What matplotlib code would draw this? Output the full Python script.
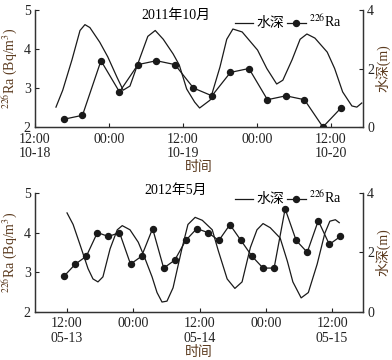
import pandas as pd
import matplotlib
matplotlib.use("Agg")
import matplotlib.pyplot as plt
import matplotlib.dates as mdates
from matplotlib.ticker import FuncFormatter
from matplotlib.lines import Line2D

plt.rcParams['font.family'] = ['Liberation Serif', 'DejaVu Serif', 'Noto Sans CJK SC']
plt.rcParams['mathtext.fontset'] = 'stix'

# 2011年10月, hours after 10-18 12:00
oct_ra_h = [4.7, 7.7, 10.7, 13.7, 16.7, 19.7, 22.7, 25.7, 28.7, 31.7, 34.7, 37.7, 40.7, 43.7, 46.7, 49.7]
oct_ra = [2.2, 2.3, 3.7, 2.9, 3.6, 3.7, 3.6, 3.0, 2.8, 3.4, 3.5, 2.7, 2.8, 2.7, 2.0, 2.5]
oct_dep_h = [3.4, 4.5, 6.0, 7.3, 8.1, 8.9, 10.5, 11.8, 13.3, 14.3, 15.4, 17.0, 18.3, 19.5, 20.8,
             22.4, 23.4, 24.6, 25.9, 26.7, 28.4, 30.0, 31.1, 32.1, 33.6, 36.1, 37.6, 39.2, 40.2,
             41.7, 43.0, 44.1, 45.4, 47.4, 48.6, 49.9, 51.4, 52.2, 53.0]
oct_dep = [0.68, 1.26, 2.3, 3.3, 3.5, 3.4, 2.9, 2.4, 1.7, 1.26, 1.4, 2.35, 3.1, 3.3, 3.0,
           2.5, 2.12, 1.3, 0.85, 0.65, 0.92, 2.05, 3.0, 3.35, 3.25, 2.63, 2.0, 1.47, 1.6,
           2.3, 3.0, 3.18, 3.04, 2.56, 2.0, 1.2, 0.72, 0.68, 0.82]

# 2012年5月, hours after 05-13 12:00
may_ra_h = [-0.5, 1.5, 3.5, 5.5, 7.5, 9.5, 11.5, 13.5, 15.5, 17.5, 19.5, 21.5, 23.5,
            25.5, 27.5, 29.5, 31.5, 33.5, 35.5, 37.5, 39.5, 41.5, 43.5, 45.5, 47.5, 49.5]
may_ra = [2.9, 3.2, 3.4, 4.0, 3.9, 4.0, 3.2, 3.4, 4.1, 3.1, 3.3, 3.8, 4.1,
          4.0, 3.8, 4.2, 3.8, 3.4, 3.1, 3.1, 4.6, 3.8, 3.5, 4.3, 3.7, 3.9]
may_dep_h = [0.0, 1.1, 2.4, 3.8, 4.7, 5.6, 6.5, 7.8, 9.1, 10.0, 11.4, 12.9, 14.1, 15.4, 16.3,
             17.2, 18.1, 19.2, 20.8, 21.9, 23.2, 24.5, 26.3, 27.4, 29.0, 30.4, 31.7,
             33.2, 34.4, 35.5, 36.8, 38.6, 39.9, 40.9, 42.4, 43.7, 45.3, 46.7, 47.6, 48.6, 49.3]
may_dep = [3.33, 2.94, 2.23, 1.45, 1.1, 1.0, 1.17, 2.12, 2.76, 2.9, 2.76, 2.34, 1.8, 1.17, 0.64,
           0.32, 0.35, 0.8, 2.12, 2.94, 3.18, 3.08, 2.76, 2.05, 1.1, 0.78, 1.0,
           2.16, 2.76, 2.97, 2.83, 2.48, 1.7, 1.0, 0.46, 0.64, 1.6, 2.65, 3.05, 3.1, 3.0]

LBL = '#5b3a1e'
LINE = '#1a1a1a'


def tlab(x, pos):
    d = mdates.num2date(x)
    s = d.strftime('%H:%M')
    if d.hour == 12:
        s += '\n' + d.strftime('%m-%d')
    return s


def panel(rect, t0, ra_h, ra, dep_h, dep, xlim_h, title, title_y, leg_y):
    t0 = pd.Timestamp(t0)
    tt = lambda h: t0 + pd.to_timedelta(h, unit='h')
    ax = fig.add_axes(rect)
    ax2 = ax.twinx()
    ax2.plot(tt(dep_h), dep, color=LINE, lw=0.9)
    ax.plot(tt(ra_h), ra, color=LINE, lw=0.9, marker='o', ms=4.3)
    ax.set_zorder(ax2.get_zorder() + 1)
    ax.patch.set_visible(False)

    ax.set_xlim(tt(xlim_h[0]), tt(xlim_h[1]))
    ax.set_ylim(2, 5)
    ax.set_yticks([2, 3, 4, 5])
    ax2.set_ylim(0, 4)
    ax2.set_yticks([0, 2, 4])
    ax.xaxis.set_major_locator(mdates.HourLocator(byhour=[0, 12]))
    ax.xaxis.set_major_formatter(FuncFormatter(tlab))

    for a in (ax, ax2):
        a.spines['top'].set_visible(False)
        for s in a.spines.values():
            s.set_linewidth(0.9)
            s.set_color('#333333')
        a.tick_params(direction='in', length=3, width=0.8, labelsize=10, pad=3, colors='#222222')
    ax.tick_params(axis='x', pad=4)

    ax.set_ylabel('$^{226}$Ra (Bq/m$^3$)', color=LBL, fontsize=10, labelpad=3)
    ax2.set_ylabel('水深(m)', color=LBL, fontsize=10, labelpad=1)
    ax.set_xlabel('时间', color=LBL, fontsize=10, labelpad=1)
    for lab in ax.get_xticklabels():
        lab.set_linespacing(1.15)

    ax.text(0.43, title_y, title, transform=ax.transAxes, ha='center', va='center', fontsize=10)
    handles = [Line2D([], [], color=LINE, lw=0.9),
               Line2D([], [], color=LINE, lw=0.9, marker='o', ms=4.3)]
    ax.legend(handles, ['水深', '$^{226}$Ra'], loc='center right', bbox_to_anchor=(0.935, leg_y),
              ncol=2, frameon=False, fontsize=10, handlelength=1.3, handletextpad=0.25,
              columnspacing=0.25, borderaxespad=0, borderpad=0)
    return ax


fig = plt.figure(figsize=(3.92, 3.6), dpi=100)
panel([0.0893, 0.6472, 0.8367, 0.325], '2011-10-18 12:00', oct_ra_h, oct_ra,
      oct_dep_h, oct_dep, (0.0, 53.2), '2011年10月', 0.957, 0.897)
panel([0.0893, 0.1347, 0.8367, 0.329], '2012-05-13 12:00', may_ra_h, may_ra,
      may_dep_h, may_dep, (-5.8, 53.6), '2012年5月', 1.025, 0.958)

fig.savefig('out.png', dpi=100)
